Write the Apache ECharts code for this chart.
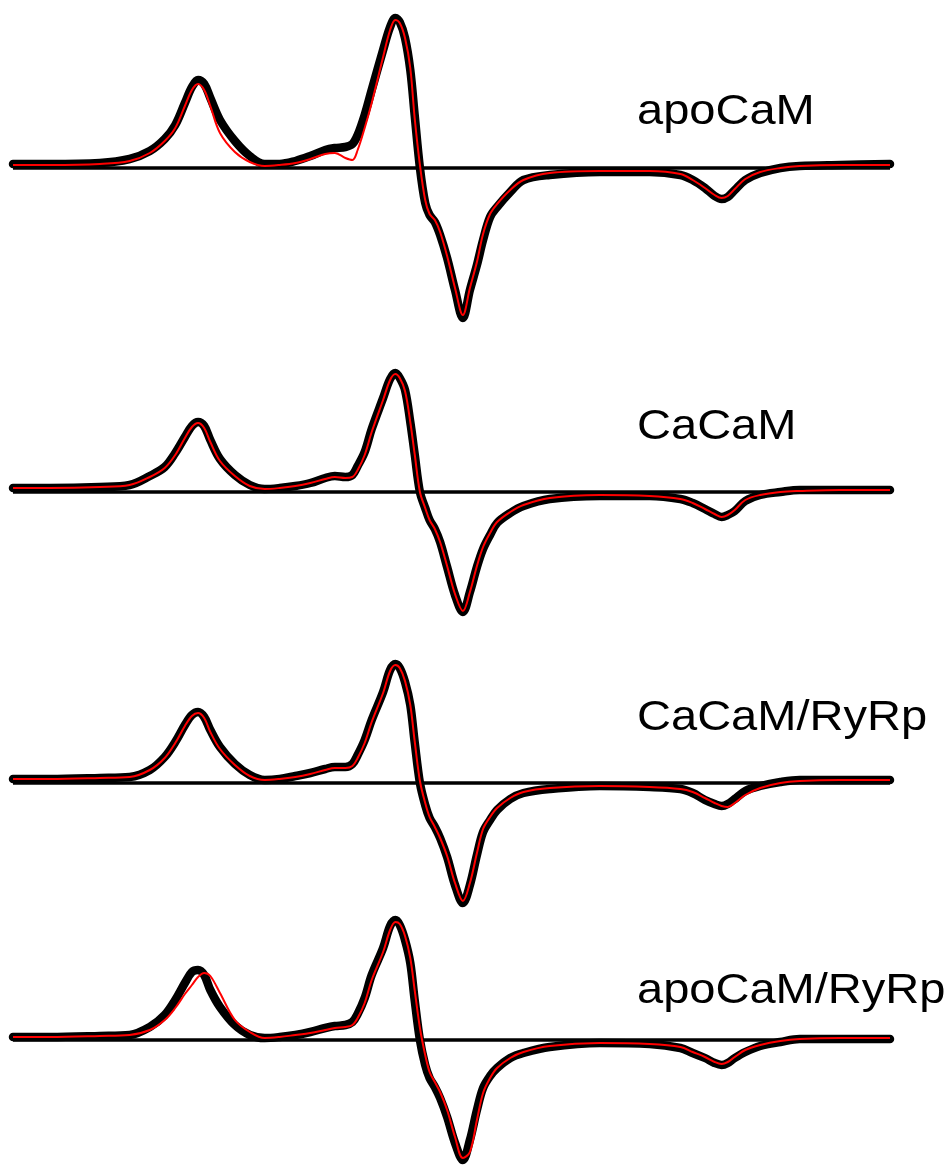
<!DOCTYPE html>
<html>
<head>
<meta charset="utf-8">
<script src="https://cdn.jsdelivr.net/npm/echarts@6/dist/echarts.min.js"></script>
<style>
  html, body { margin: 0; padding: 0; background: #ffffff; }
  #chart { width: 951px; height: 1165px; }
</style>
</head>
<body>
<div id="chart"></div>
<script>
// Magnetic field sweep (relative units, 0–100) shared by every spectrum
const field = [0, 4.2, 9.9, 13.3, 15.6, 17.3, 18.5, 19.6, 20.4, 21.1,
  21.8, 22.5, 23.6, 25.3, 27.0, 28.7, 30.4, 32.2, 33.9, 35.6,
  36.7, 37.9, 38.7, 39.3, 40.1, 40.9, 42.2, 43.0, 43.6, 44.1,
  44.7, 45.3, 45.8, 46.4, 47.0, 47.5, 48.1, 48.7, 49.5, 50.4,
  51.3, 52.1, 52.9, 53.6, 54.4, 55.2, 56.7, 58.2, 61.2, 66.9,
  72.6, 76.1, 77.5, 78.9, 80.0, 80.8, 81.5, 82.3, 83.5, 85.2,
  87.5, 89.7, 94.3, 100];

// First-derivative EPR intensities (a.u.): experimental trace and simulated fit
const apoExp = [4, 4, 5, 9, 17, 29, 43, 65, 81, 88,
  84, 70, 48, 27, 12, 4, 4, 7, 12, 18,
  20, 21, 24, 33, 53, 78, 118, 141, 150, 146,
  130, 98, 53, 0, -35, -47, -54, -67, -90, -122,
  -150, -122, -97, -72, -49, -39, -24, -12, -7, -4,
  -4, -7, -12, -20, -28, -31, -29, -22, -12, -5,
  0, 2, 3, 4];
const apoFit = [3, 3, 4, 7, 15, 27, 40, 62, 78, 84,
  78, 62, 35, 16, 6, 2, 3, 5, 9, 14,
  15, 10, 8, 18, 40, 65, 111, 138, 148, 145,
  130, 100, 50, 3, -32, -46, -52, -64, -88, -120,
  -147, -120, -94, -66, -46, -36, -22, -12, -5, -3,
  -3, -6, -12, -20, -27, -30, -28, -21, -11, -4,
  0, 2, 3, 3];

const caExp = [4, 4, 5, 7, 16, 25, 39, 55, 66, 70,
  66, 52, 33, 17, 7, 3, 4, 6, 9, 14,
  16, 15, 17, 26, 40, 63, 94, 113, 119, 114,
  102, 70, 38, 0, -16, -28, -37, -50, -75, -103,
  -120, -100, -75, -57, -43, -31, -21, -14, -7, -4,
  -4, -7, -11, -17, -22, -25, -23, -19, -9, -3,
  0, 2, 2, 2];
const caFit = [4, 4, 5, 7, 15, 24, 37, 54, 65, 69,
  64, 50, 31, 16, 6, 3, 4, 6, 9, 13,
  15, 14, 15, 22, 37, 60, 92, 112, 118, 114,
  101, 70, 38, 0, -16, -28, -37, -50, -74, -102,
  -119, -100, -74, -55, -41, -30, -20, -13, -6, -3,
  -4, -7, -11, -17, -22, -25, -23, -18, -8, -3,
  0, 1, 2, 2];

const caRyExp = [4, 4, 5, 6, 13, 26, 41, 58, 68, 71,
  66, 53, 36, 19, 8, 3, 4, 7, 10, 14,
  16, 16, 19, 28, 43, 63, 91, 113, 119, 115,
  101, 78, 41, 0, -22, -35, -44, -55, -74, -102,
  -120, -102, -72, -49, -37, -27, -16, -10, -6, -3,
  -4, -6, -10, -17, -21, -23, -21, -16, -8, -3,
  1, 3, 3, 3];
const caRyFit = [4, 4, 5, 6, 13, 25, 40, 57, 67, 70,
  65, 51, 34, 18, 7, 3, 4, 6, 9, 13,
  15, 15, 17, 25, 40, 61, 90, 112, 118, 115,
  102, 78, 42, 2, -20, -34, -44, -55, -73, -100,
  -118, -100, -70, -46, -34, -25, -15, -9, -5, -3,
  -4, -6, -9, -15, -20, -23, -24, -20, -12, -5,
  0, 2, 3, 3];

const apoRyExp = [3, 3, 4, 5, 13, 25, 40, 57, 68, 70,
  65, 50, 33, 15, 5, 2, 3, 5, 8, 12,
  14, 15, 18, 26, 42, 65, 92, 114, 120, 115,
  100, 77, 40, 0, -25, -38, -47, -58, -77, -103,
  -120, -100, -70, -48, -36, -28, -18, -13, -7, -3,
  -4, -8, -13, -18, -23, -25, -23, -18, -12, -6,
  -2, 1, 1, 1];
const apoRyFit = [3, 3, 4, 5, 10, 20, 32, 46, 55, 63,
  67, 64, 47, 20, 8, 2, 3, 5, 7, 10,
  12, 13, 15, 22, 37, 60, 88, 110, 118, 116,
  104, 82, 50, 12, -15, -32, -42, -52, -70, -97,
  -118, -112, -80, -53, -38, -28, -18, -12, -6, -3,
  -4, -7, -12, -17, -22, -24, -22, -17, -10, -5,
  -1, 1, 2, 2];

// Sample names, top to bottom
const sampleLabels = ['apoCaM', 'CaCaM', 'CaCaM/RyRp', 'apoCaM/RyRp'];

const spectra = [
  [apoExp, apoFit],
  [caExp, caFit],
  [caRyExp, caRyFit],
  [apoRyExp, apoRyFit]
];

// Panel layout: each stacked spectrum gets its own plot area (1 px per a.u.)
const panelTops = [8, 332, 623, 915];
const panelHalf = [160, 160, 160, 125];
const labelTops = [112, 427, 718, 991];

const pairs = ys => field.map((f, i) => [f, ys[i]]);

const grids = [], xAxes = [], yAxes = [], series = [], graphics = [];
spectra.forEach(([exp, fit], i) => {
  grids.push({ left: 13, width: 877, top: panelTops[i], height: 2 * panelHalf[i] });
  xAxes.push({ type: 'value', gridIndex: i, min: 0, max: 100, show: false });
  yAxes.push({ type: 'value', gridIndex: i, min: -panelHalf[i], max: panelHalf[i], show: false });
  series.push({
    type: 'line', xAxisIndex: i, yAxisIndex: i, z: 1,
    data: [[0, 0], [100, 0]], showSymbol: false, silent: true,
    lineStyle: { color: '#000', width: 3.5 }
  });
  series.push({
    type: 'line', xAxisIndex: i, yAxisIndex: i, z: 2,
    data: pairs(exp), showSymbol: false, smooth: 0.35, silent: true, clip: false,
    lineStyle: { color: '#000', width: 8.5, cap: 'round', join: 'round' }
  });
  series.push({
    type: 'line', xAxisIndex: i, yAxisIndex: i, z: 3,
    data: pairs(fit), showSymbol: false, smooth: 0.35, silent: true, clip: false,
    lineStyle: { color: '#ff0000', width: 2, join: 'round' }
  });
  graphics.push({
    type: 'text', x: 637, y: labelTops[i], scaleX: 1.12, z: 10,
    style: {
      text: sampleLabels[i],
      font: '42px "Liberation Sans", Arial, sans-serif',
      fill: '#000', textAlign: 'left', textVerticalAlign: 'middle', verticalAlign: 'middle'
    }
  });
});

const chart = echarts.init(document.getElementById('chart'), null, { renderer: 'canvas' });
chart.setOption({
  backgroundColor: '#ffffff',
  animation: false,
  grid: grids,
  xAxis: xAxes,
  yAxis: yAxes,
  series: series,
  graphic: graphics
});
</script>
</body>
</html>
